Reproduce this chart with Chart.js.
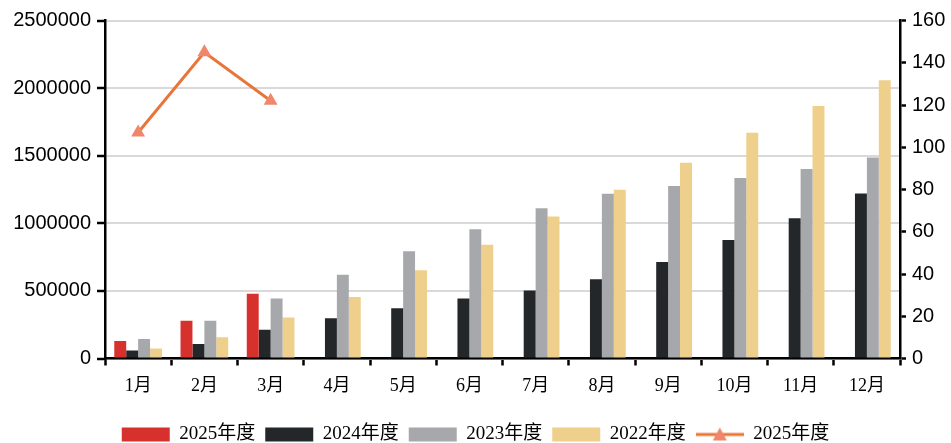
<!DOCTYPE html>
<html>
<head>
<meta charset="utf-8">
<script src="https://cdn.jsdelivr.net/npm/chart.js@4.4.1/dist/chart.umd.min.js"></script>
<style>
  html, body { margin: 0; padding: 0; background: #fff; }
  #wrap { width: 951px; height: 443px; position: relative; }
</style>
</head>
<body>
<div id="wrap"><canvas id="salesChart"></canvas></div>
<script>
const months = ["1月", "2月", "3月", "4月", "5月", "6月", "7月", "8月", "9月", "10月", "11月", "12月"];
const sales2025 = [130000, 280000, 478000, null, null, null, null, null, null, null, null, null];
const sales2024 = [60000, 108000, 212000, 298000, 372000, 444000, 503000, 586000, 714000, 876000, 1038000, 1220000];
const sales2023 = [145000, 280000, 443000, 620000, 793000, 956000, 1111000, 1219000, 1276000, 1335000, 1401000, 1487000];
const sales2022 = [74000, 157000, 303000, 455000, 653000, 841000, 1050000, 1249000, 1448000, 1669000, 1868000, 2058000];
const ratio2025 = [107, 145, 122, null, null, null, null, null, null, null, null, null];
const leftTicks = [0, 500000, 1000000, 1500000, 2000000, 2500000];
const rightTicks = [0, 20, 40, 60, 80, 100, 120, 140, 160];

const RED = "#d7312d", DARK = "#24272a", GRAY = "#a7a8ab", GOLD = "#eecf8b";
const LINE = "#e8763a", MARK = "#f0866c";
const serif = "'Liberation Serif', 'Noto Sans CJK SC', serif";
const sans = "'Liberation Sans', Arial, sans-serif";

// legend icon for the line series: a stroke with a triangle in the middle
function lineIcon() {
  const c = document.createElement("canvas");
  c.width = 48; c.height = 16;
  const g = c.getContext("2d");
  g.strokeStyle = LINE; g.lineWidth = 3;
  g.beginPath(); g.moveTo(0, 8); g.lineTo(48, 8); g.stroke();
  g.fillStyle = MARK;
  g.beginPath(); g.moveTo(24, 1); g.lineTo(31, 14); g.lineTo(17, 14); g.closePath(); g.fill();
  return c;
}

// keep the legend strip short so it sits near the bottom edge
const legendHeight = {
  id: "legendHeight",
  beforeInit(chart) {
    const fit = chart.legend.fit;
    chart.legend.fit = function () {
      fit.call(this);
      this.height = 28;
    };
  }
};

const ctx = document.getElementById("salesChart").getContext("2d");

new Chart(ctx, {
  plugins: [legendHeight],
  data: {
    labels: months,
    datasets: [
      { type: "bar", label: "2025年度", data: sales2025, backgroundColor: RED, yAxisID: "y", order: 2 },
      { type: "bar", label: "2024年度", data: sales2024, backgroundColor: DARK, yAxisID: "y", order: 2 },
      { type: "bar", label: "2023年度", data: sales2023, backgroundColor: GRAY, yAxisID: "y", order: 2 },
      { type: "bar", label: "2022年度", data: sales2022, backgroundColor: GOLD, yAxisID: "y", order: 2 },
      {
        type: "line", label: "2025年度", data: ratio2025, yAxisID: "y1", order: 1,
        borderColor: LINE, borderWidth: 3, backgroundColor: MARK,
        pointStyle: "triangle", pointRadius: 8, pointHoverRadius: 8,
        pointBackgroundColor: MARK, pointBorderColor: MARK, pointBorderWidth: 0,
        spanGaps: false, tension: 0
      }
    ]
  },
  options: {
    responsive: true,
    maintainAspectRatio: false,
    animation: false,
    layout: { padding: { top: 20.5, left: 0, right: 0, bottom: 0 } },
    datasets: { bar: { barPercentage: 1, categoryPercentage: 0.72 } },
    plugins: {
      tooltip: { enabled: false },
      legend: {
        position: "bottom",
        labels: {
          usePointStyle: true,
          pointStyleWidth: 48,
          boxHeight: 14,
          padding: 10,
          color: "#000",
          font: { family: serif, size: 19 },
          generateLabels(chart) {
            return chart.data.datasets.map((ds, i) => ({
              text: ds.label,
              fillStyle: ds.type === "line" ? MARK : ds.backgroundColor,
              strokeStyle: "rgba(0,0,0,0)",
              lineWidth: 0,
              pointStyle: ds.type === "line" ? lineIcon() : "rect",
              datasetIndex: i,
              hidden: false
            }));
          }
        }
      }
    },
    scales: {
      x: {
        offset: true,
        grid: { offset: true, drawOnChartArea: false, drawTicks: true, tickLength: 7, tickColor: "#000", tickWidth: 2.5 },
        border: { color: "#000", width: 2.5 },
        ticks: { color: "#000", font: { family: serif, size: 18 }, padding: 10 },
        afterFit(scale) { scale.height = 56.5; }
      },
      y: {
        position: "left",
        min: 0, max: 2500000,
        afterBuildTicks(scale) { scale.ticks = leftTicks.map(v => ({ value: v })); },
        grid: { color: "#d9d9d9", lineWidth: 2, tickColor: "#000", tickLength: 8, tickWidth: 2.5 },
        border: { color: "#000", width: 2.5 },
        ticks: { color: "#000", font: { family: sans, size: 20 }, padding: 6, callback: v => String(v) },
        afterFit(scale) { scale.width = 105; }
      },
      y1: {
        position: "right",
        min: 0, max: 160,
        afterBuildTicks(scale) { scale.ticks = rightTicks.map(v => ({ value: v })); },
        grid: { drawOnChartArea: false, tickColor: "#000", tickLength: 6, tickWidth: 2.5 },
        border: { color: "#000", width: 2.5 },
        ticks: { color: "#000", font: { family: sans, size: 20 }, padding: 6, callback: v => String(v) },
        afterFit(scale) { scale.width = 51; }
      }
    }
  }
});
</script>
</body>
</html>
